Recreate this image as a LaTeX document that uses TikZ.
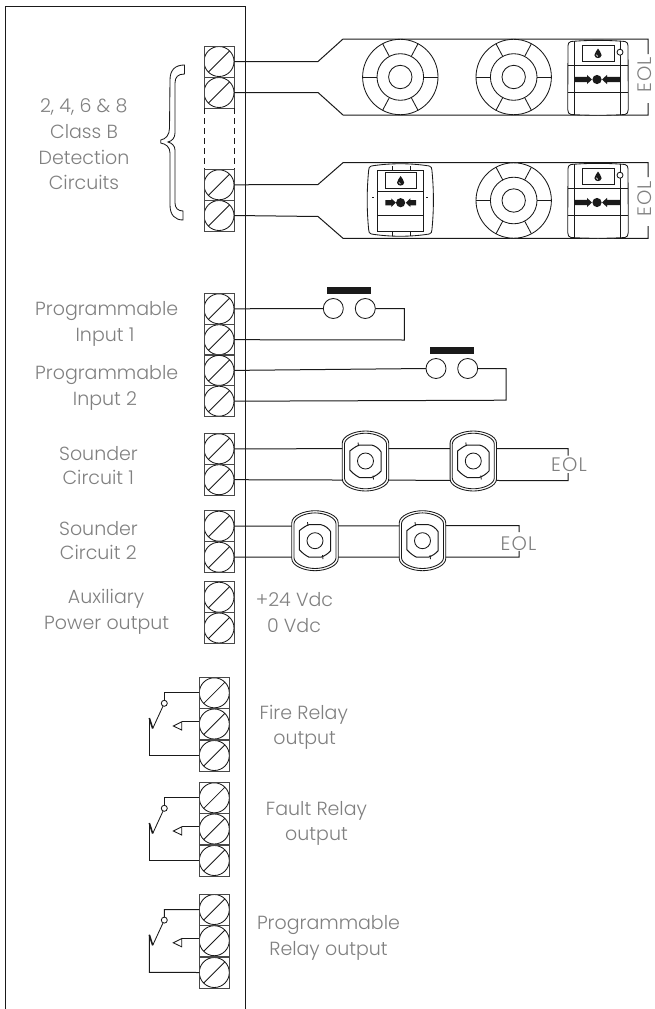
\documentclass[tikz,border=0pt]{standalone}
\usepackage{fontspec}
\setmainfont{Poppins Light}
\definecolor{txt}{HTML}{808080}
\definecolor{ink}{HTML}{1A1A1A}
\tikzset{
  wire/.style={draw=ink,line width=1pt,line join=miter},
  screw/.style={draw=ink!80,line width=1pt,rectangle,minimum width=30pt,minimum height=31pt,inner sep=0pt,outer sep=0pt,
    path picture={\draw[ink,line width=0.85pt,shift={(path picture bounding box.center)}] (0,0) circle (15) (-10.6,10.6) -- (10.6,-10.6);}},
  detector/.style={draw=ink,line width=0.85pt,fill=white,circle,minimum size=75.4pt,inner sep=0pt,outer sep=0pt,
    path picture={\begin{scope}[ink,line width=0.85pt,shift={(path picture bounding box.center)}]
      \draw (0,0) circle (23.3) (0,0) circle (11.7);
      \foreach \a in {0,62,118,180,242,298}{\draw (\a:23.3) -- (\a:38);}
    \end{scope}}},
  lbl/.style={text=txt,font=\fontsize{19}{22}\selectfont,inner sep=0pt,anchor=base},
  eol/.style={text=txt,font=\fontsize{19.5}{24}\selectfont\addfontfeature{LetterSpace=6},inner sep=0pt,anchor=base},
  contact/.style={draw=ink,line width=0.85pt,fill=white,circle,minimum size=20pt,inner sep=0pt,outer sep=0pt},
  pivot/.style={draw=ink,line width=0.85pt,fill=white,circle,minimum size=6pt,inner sep=0pt,outer sep=0pt},
  drop/.pic={\fill[ink] (0,-5) .. controls (1,-2.5) and (3.6,-1) .. (3.6,1.6) .. controls (3.6,3.6) and (1.6,4.6) .. (0,4.6) .. controls (-1.6,4.6) and (-3.6,3.6) .. (-3.6,1.6) .. controls (-3.6,-1) and (-1,-2.5) .. cycle;
     \draw[white,line width=0.6pt] (-1.8,1.2) .. controls (-1.8,2.4) and (-1,3) .. (-0.2,3);},
  mcpwide/.pic={
    \draw[ink,line width=0.85pt,fill=white] (-27,-36) .. controls (-10,-37.5) and (10,-37.5) .. (27,-36) .. controls (29,-35.6) and (30,-34) .. (30,-32) -- (30.3,32) .. controls (30.3,35) and (29,36.6) .. (27,37) .. controls (10,38) and (-10,38) .. (-27,37) .. controls (-29,36.6) and (-30.3,35) .. (-30.3,32) -- (-30,-32) .. controls (-30,-34) and (-29,-35.6) .. (-27,-36) -- cycle;
    \draw[ink,line width=0.85pt] (-23.7,-36.6) -- (-23.7,37.4) (22,-36.6) -- (22,37.4) (-30,-12) -- (30,-12) (-30.2,14.7) -- (30.2,14.7);
    \draw[ink,line width=1pt] (-15.7,-32) rectangle (16,-16.3);
    \pic at (0,-24) {drop};
    \draw[ink,line width=0.85pt,fill=white] (22,-25.3) circle (3);
    \fill[ink] (-1,2) circle (4.6);
    \fill[ink] (-23.7,-0.6) -- (-11,-0.6) -- (-11,-2.6) -- (-6,2) -- (-11,6.6) -- (-11,4.6) -- (-23.7,4.6) -- cycle;
    \fill[ink] (22,-0.6) -- (9,-0.6) -- (9,-2.6) -- (4,2) -- (9,6.6) -- (9,4.6) -- (22,4.6) -- cycle;
  },
  mcpfront/.pic={
    \draw[ink,line width=0.85pt,fill=white] (-29,-34) .. controls (-10,-37) and (10,-37) .. (29,-34) .. controls (31,-33.5) and (31.5,-32) .. (31.6,-30) .. controls (33.6,-10) and (33.6,10) .. (31.6,30) .. controls (31.5,32) and (31,33.5) .. (29,34) .. controls (10,37) and (-10,37) .. (-29,34) .. controls (-31,33.5) and (-31.5,32) .. (-31.6,30) .. controls (-33.6,10) and (-33.6,-10) .. (-31.6,-30) .. controls (-31.5,-32) and (-31,-33.5) .. (-29,-34) -- cycle;
    \draw[ink,line width=1pt] (-22.7,-30) rectangle (22.7,31.7);
    \draw[ink,line width=1pt] (-22.7,-9) -- (22.7,-9) (-22.7,15) -- (22.7,15);
    \draw[ink,line width=1pt] (-14.5,-27.3) rectangle (16.5,-11.7);
    \pic at (0.3,-19) {drop};
    \fill[ink] (0.3,2.7) circle (4.6);
    \fill[ink] (-15,0) -- (-9,0) -- (-9,-1.6) -- (-4.5,2.7) -- (-9,7) -- (-9,5.4) -- (-15,5.4) -- cycle;
    \fill[ink] (15.7,0) -- (10,0) -- (10,-1.6) -- (5.5,2.7) -- (10,7) -- (10,5.4) -- (15.7,5.4) -- cycle;
    \draw[ink,line width=0.7pt] (-7.7,-34) -- (-7.7,-30) (10,-34) -- (10,-30) (-7.7,32) -- (-7.7,36) (10,32) -- (10,36) (-28,-2.5) -- (-26.5,-2.5) (26,-2.5) -- (27.5,-2.5);
  },
  sounder/.pic={
    \draw[ink,line width=0.85pt,fill=white] (-23.2,-18) .. controls (-23.2,-25) and (-11,-30) .. (0,-30) .. controls (11,-30) and (23.2,-25) .. (23.2,-18) -- (23.2,18) .. controls (23.2,25) and (11,30) .. (0,30) .. controls (-11,30) and (-23.2,25) .. (-23.2,18) -- cycle;
    \draw[ink,line width=0.85pt] (-21,-17) .. controls (-21,-23) and (-10,-27.8) .. (0,-27.8) .. controls (10,-27.8) and (21,-23) .. (21,-17) -- (21,17) .. controls (21,23) and (10,27.8) .. (0,27.8) .. controls (-10,27.8) and (-21,23) .. (-21,17) -- cycle;
    \draw[ink,line width=1pt] (-15.7,-10) .. controls (-12,-13) and (-9,-15) .. (-6,-16) -- (6,-16) .. controls (10,-15) and (13,-13) .. (15.7,-9) -- (15.7,10) .. controls (13,13) and (10,15) .. (6,16.5) -- (-6,16.5) .. controls (-9,15) and (-12,13) .. (-15.7,9) -- cycle;
    \draw[ink,line width=0.85pt] (0,0) circle (8);
    \draw[ink,line width=0.85pt] (-7.5,-18.5) -- (-7,-15) (7.5,14.5) -- (8,18.5);
  }
}
\begin{document}
\begin{tikzpicture}[x=1pt,y=-1pt]
\useasboundingbox (0,0) rectangle (654,1009);
% panel
\coordinate (pbl) at (5,1009); \coordinate (ptl) at (5,6); \coordinate (ptr) at (245,6); \coordinate (pbr) at (245,1009);
\draw[wire] (pbl) -- (ptl) -- (ptr) -- (pbr);
% terminals
\foreach \n/\y in {a1/61.5,a2/92.5,a3/184.8,a4/215.5,
  b1/308.8,b2/339.7,b3/370.4,b4/401.2,
  c1/448.8,c2/479.7,d1/526.2,d2/557.2,e1/597.2,e2/628}{
  \node[screw] (\n) at (219,\y) {};
}
\foreach \n/\y in {f1/692.8,f2/724,f3/755.5,g1/797.8,g2/829,g3/860.5,h1/909.5,h2/940.7,h3/972.5}{
  \node[screw] (\n) at (214.3,\y) {};
}
% dashed continuation
\draw[ink,line width=0.9pt,dash pattern=on 5.5pt off 4.5pt] (a2.south west) -- (a3.north west) (a2.south east) -- (a3.north east);
% rails with devices
\coordinate (j1) at (318,61.5); \coordinate (j2) at (343,39); \coordinate (j3) at (648,39); \coordinate (j4) at (648,54);
\coordinate (k1) at (318,92.5); \coordinate (k2) at (343,115); \coordinate (k3) at (648,115); \coordinate (k4) at (648,103);
\draw[wire] (a1.east) -- (j1) -- (j2) -- (j3) -- (j4);
\draw[wire] (a2.east) -- (k1) -- (k2) -- (k3) -- (k4);
\coordinate (l1) at (318,184.5); \coordinate (l2) at (343,162.7); \coordinate (l3) at (648,162.7); \coordinate (l4) at (648,177);
\coordinate (m1) at (318,216.5); \coordinate (m2) at (343,238.3); \coordinate (m3) at (648,238.3); \coordinate (m4) at (648,226);
\draw[wire] (a3.east) -- (l1) -- (l2) -- (l3) -- (l4);
\draw[wire] (a4.east) -- (m1) -- (m2) -- (m3) -- (m4);
\node[detector] (det1) at (400.3,77) {};
\node[detector] (det2) at (513.7,77) {};
\node[detector] (det3) at (513.7,200.5) {};
\pic (mcp1) at (598,77.5) {mcpwide};
\pic (mcp2) at (598,200.5) {mcpwide};
\pic (mcp3) at (400.3,200) {mcpfront};
\node[eol,rotate=90] (eol1) at (651.5,75) {EOL};
\node[eol,rotate=90] (eol2) at (651.5,199) {EOL};
% programmable inputs
\node[contact] (s1a) at (333.3,308.5) {};
\node[contact] (s1b) at (365.3,308.5) {};
\fill[ink] (327,287.3) rectangle (371,294);
\coordinate (s1c) at (404.3,308.5); \coordinate (s1d) at (404.3,340);
\draw[wire] (b1.east) -- (s1a.west);
\draw[wire] (s1b.east) -- (s1c) -- (s1d) -- (b2.east);
\node[contact] (s2a) at (436,368.5) {};
\node[contact] (s2b) at (467.7,368.5) {};
\fill[ink] (430,347.3) rectangle (474,354);
\coordinate (s2c) at (506,368.5); \coordinate (s2d) at (506,400.2);
\draw[wire] (b3.east) -- (s2a.west);
\draw[wire] (s2b.east) -- (s2c) -- (s2d) -- (b4.east);
% sounders
\coordinate (q1) at (568,448.5); \coordinate (q2) at (568,455.5); \coordinate (q3) at (568,480.7); \coordinate (q4) at (568,473);
\draw[wire] (c1.east) -- (q1) -- (q2);
\draw[wire] (c2.east) -- (q3) -- (q4);
\pic (sn1) at (365.5,461) {sounder};
\pic (sn2) at (473.3,461) {sounder};
\node[eol] (eol3) at (569,471.7) {EOL};
\coordinate (r1) at (519,525.5); \coordinate (r2) at (519,532); \coordinate (r3) at (519,557); \coordinate (r4) at (519,551);
\draw[wire] (d1.east) -- (r1) -- (r2);
\draw[wire] (d2.east) -- (r3) -- (r4);
\pic (sn3) at (315,540.7) {sounder};
\pic (sn4) at (422.5,540.7) {sounder};
\node[eol] (eol4) at (518.5,550) {EOL};
% relays
\foreach \p/\o in {f/0,g/105,h/216.8}{
 \begin{scope}[yshift=-\o pt]
  \node[pivot] (\p p) at (164.3,703.3) {};
  \coordinate (\p u) at (164.3,692.8);
  \coordinate (\p t) at (149.3,718);
  \coordinate (\p l) at (149.3,755.5);
  \coordinate (\p k) at (152.7,728.5);
  \coordinate (\p w) at (181.7,721.8);
  \draw[wire] (\p1.west) -- (\p u) -- (\p p.north);
  \draw[wire] (\p3.west) -- (\p l) -- (\p t);
  \draw[ink,line width=1.6pt] (\p t) -- (\p k);
  \draw[ink,line width=0.85pt] (\p p) -- (\p k);
  \draw[wire] (\p2.west |- \p w) -- (\p w);
  \draw[ink,line width=0.85pt,line join=miter] (\p w) -- (173.3,726) -- (181.7,730) -- cycle;
 \end{scope}
}
% labels
\node[lbl] (t1) at (83.7,112.7) {2, 4, 6 \& 8};
\node[lbl] (t2) at (84,138.3) {Class B};
\node[lbl] (t3) at (84,164) {Detection};
\node[lbl] (t4) at (84,189.3) {Circuits};
\node[lbl] (t5) at (106.7,315) {Programmable};
\node[lbl] (t6) at (105,341.7) {Input 1};
\node[lbl] (t7) at (106.7,379.3) {Programmable};
\node[lbl] (t8) at (105,405) {Input 2};
\node[lbl] (t9) at (98.5,460) {Sounder};
\node[lbl] (t10) at (98.3,484.3) {Circuit 1};
\node[lbl] (t11) at (98.5,535.7) {Sounder};
\node[lbl] (t12) at (98.3,559.3) {Circuit 2};
\node[lbl] (t13) at (106,603.3) {Auxiliary};
\node[lbl] (t14) at (106.7,629.3) {Power output};
\node[lbl] (t15) at (294.5,606.7) {+24 Vdc};
\node[lbl] (t16) at (294,632.3) {0 Vdc};
\node[lbl] (t17) at (303.8,719) {Fire Relay};
\node[lbl] (t18) at (304.7,744) {output};
\node[lbl] (t19) at (316.5,815) {Fault Relay};
\node[lbl] (t20) at (316.5,840) {output};
\node[lbl] (t21) at (328.5,929.5) {Programmable};
\node[lbl] (t22) at (328.5,955) {Relay output};
% brace
\draw[ink,line width=0.85pt] (184.5,65) .. controls (175,65) and (170,70) .. (170,80) -- (169.5,128) .. controls (169.5,135) and (166,139) .. (160.7,140) -- (160.7,143) .. controls (166,144) and (170,147) .. (170,153) -- (170,205) .. controls (170,215) and (175,220) .. (183,220) -- (183,211) .. controls (178,211) and (175,208) .. (175,203) -- (175,150) .. controls (175,146) and (172,143) .. (168,142) .. controls (172,141) and (175,138) .. (175,133) -- (175,83) .. controls (175,77) and (178,74) .. (184.5,74) -- cycle;
\end{tikzpicture}
\end{document}
